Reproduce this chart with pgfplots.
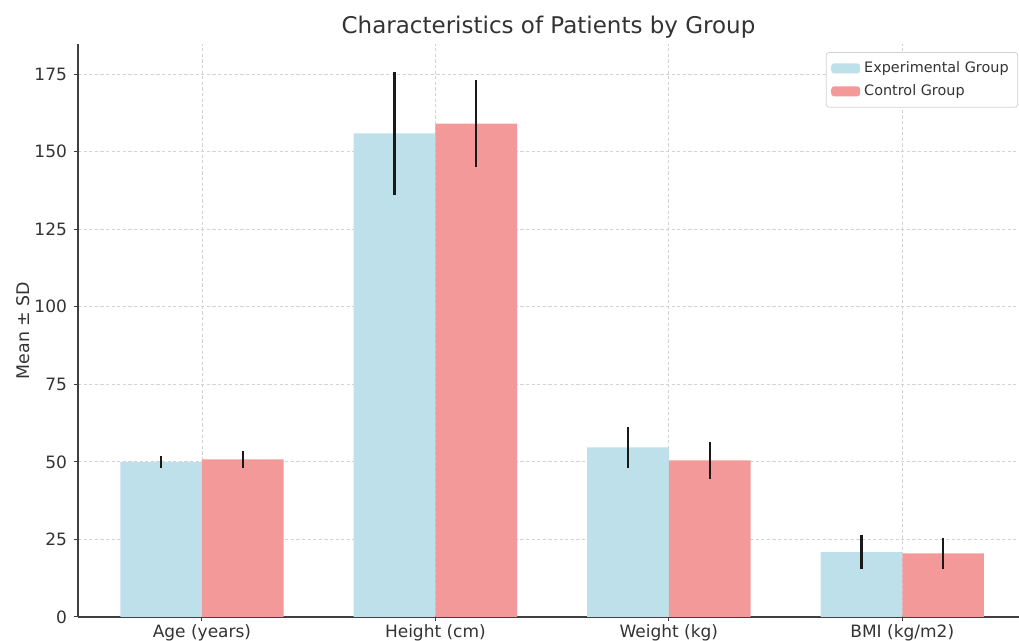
\documentclass[border=0pt]{standalone}
\usepackage{pgfplots}
\pgfplotsset{compat=1.18}
\usepackage{fontspec}
\setmainfont{DejaVu Sans}
\usetikzlibrary{calc}
\definecolor{expc}{RGB}{189,224,235}
\definecolor{ctrlc}{RGB}{243,153,153}
\definecolor{txt}{RGB}{51,51,51}
\begin{document}
\begin{tikzpicture}
\begin{axis}[
  scale only axis,
  width=470.5pt, height=286.5pt,
  xmin=-0.531, xmax=3.5,
  ymin=0, ymax=184.7,
  axis x line*=bottom, axis y line*=left,
  axis line style={-, black!75, line width=0.6pt},
  xtick={0,1,2,3},
  xticklabels={Age (years), Height (cm), Weight (kg), BMI (kg/m2)},
  ytick={0,25,50,75,100,125,150,175},
  tick align=outside, major tick length=2pt,
  tick style={black!75, line width=0.5pt},
  /pgf/number format/assume math mode=true,
  ticklabel style={font=\fontsize{8.5}{10}\selectfont, text=txt},
  xticklabel style={yshift=1.5pt},
  grid=major,
  major grid style={gray!35, dash pattern=on 1.6pt off 1.2pt, line width=0.4pt},
  title={Characteristics of Patients by Group},
  every axis title/.style={font=\fontsize{11.5}{13}\selectfont, text=txt, at={(axis description cs:0.5,1)}, yshift=8.5pt, anchor=center},
  ylabel={Mean ± SD},
  every axis y label/.style={font=\fontsize{8.7}{10}\selectfont, text=txt, at={(axis description cs:0,0.5)}, xshift=-27.5pt, rotate=90, anchor=center},
  ybar, bar width=0.35,
  legend style={at={(0.999,0.986)}, anchor=north east, font=\fontsize{7.2}{8.5}\selectfont, text=txt,
    draw=gray!35, rounded corners=1.5pt, fill=white, row sep=0.5pt, inner sep=2.5pt},
  legend cell align=left,
  legend image code/.code={\fill[#1] (0pt,-2.5pt) rectangle (14.5pt,2.5pt);},
  clip=false,
]
\addplot[fill=expc, draw=none, bar shift=-0.175,
  error bars/.cd, y dir=both, y explicit, error mark=none,
  error bar style={line width=1.1pt, black!90}]
  coordinates {(0,50.0) +- (0,2.0) (1,155.9) +- (0,19.9) (2,54.7) +- (0,6.6) (3,20.9) +- (0,5.5)};
\addlegendentry{Experimental Group}
\addplot[fill=ctrlc, draw=none, bar shift=0.175,
  error bars/.cd, y dir=both, y explicit, error mark=none,
  error bar style={line width=1.1pt, black!90}]
  coordinates {(0,50.8) +- (0,2.7) (1,159.0) +- (0,14.0) (2,50.5) +- (0,6.0) (3,20.5) +- (0,5.0)};
\addlegendentry{Control Group}
\coordinate (ll) at (rel axis cs:0,0);
\coordinate (ur) at (rel axis cs:1,1);
\end{axis}
\pgfresetboundingbox
\path ($(ll)+(-39pt,-12pt)$) rectangle ($(ur)+(0pt,22pt)$);
\end{tikzpicture}
\end{document}
